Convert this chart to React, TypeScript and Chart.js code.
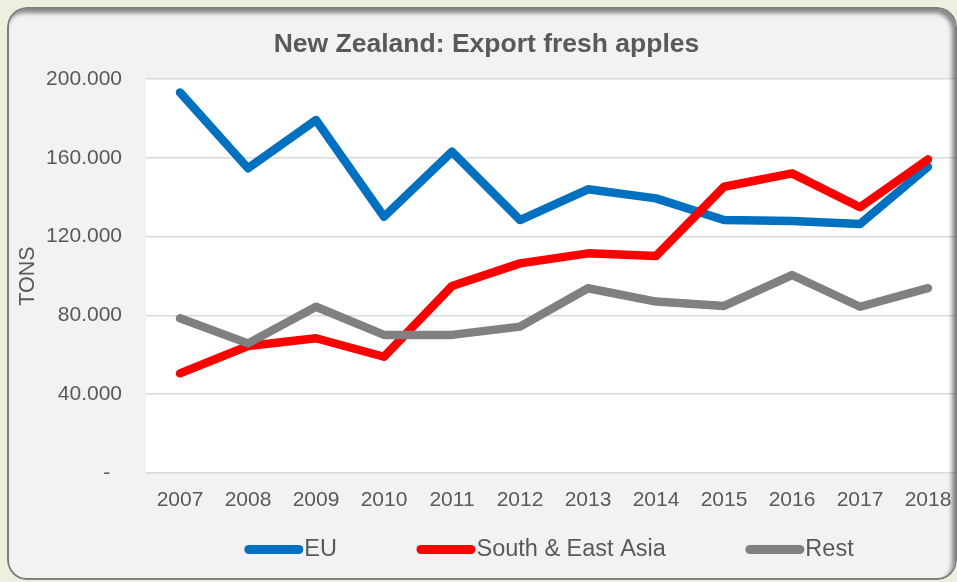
import React, { useEffect, useRef } from 'react';
import { Chart, registerables } from 'chart.js';

Chart.register(...registerables);

const years = ['2007', '2008', '2009', '2010', '2011', '2012', '2013', '2014', '2015', '2016', '2017', '2018'];
const euValues = [193200, 154700, 179200, 130100, 163100, 128400, 144000, 139400, 128400, 127900, 126400, 155500];
const asiaValues = [50600, 64500, 68400, 59000, 94900, 106400, 111500, 110200, 145300, 152100, 134900, 159200];
const restValues = [78500, 65800, 84400, 70100, 70100, 74300, 93800, 87000, 84800, 100500, 84400, 93800];
const yTickLabels = ['-  ', '40.000', '80.000', '120.000', '160.000', '200.000'];
const seriesLabels = ['EU', 'South & East Asia', 'Rest'];
const seriesColors = ['#0070C0', '#FF0000', '#808080'];

const FONT = '"Liberation Sans", Arial, Helvetica, sans-serif';
const TEXT = '#595959';

const plotBg = {
  id: 'plotBg',
  beforeDraw(chart: any) {
    const { ctx, chartArea: a } = chart;
    ctx.save();
    ctx.fillStyle = '#FFFFFF';
    ctx.fillRect(a.left, a.top, a.right - a.left, a.bottom - a.top);
    ctx.restore();
  },
};

const lineLegend = {
  id: 'lineLegend',
  afterDraw(chart: any) {
    const ctx = chart.ctx;
    ctx.save();
    ctx.font = `23.5px ${FONT}`;
    const lineW = 59;
    const gapText = 1;
    const gapItem = 79.5;
    const items = chart.data.datasets.map((ds: any) => ({
      label: ds.label,
      color: ds.borderColor,
      w: ctx.measureText(ds.label).width,
    }));
    const total =
      items.reduce((s: number, it: any) => s + lineW + gapText + it.w, 0) + gapItem * (items.length - 1);
    let x = 542 - total / 2;
    const y = 542.5;
    for (const it of items) {
      ctx.strokeStyle = it.color;
      ctx.lineWidth = 9;
      ctx.lineCap = 'round';
      ctx.beginPath();
      ctx.moveTo(x + 4.5, y);
      ctx.lineTo(x + lineW - 4.5, y);
      ctx.stroke();
      ctx.fillStyle = TEXT;
      ctx.textBaseline = 'middle';
      ctx.textAlign = 'left';
      ctx.fillText(it.label, x + lineW + gapText, y);
      x += lineW + gapText + it.w + gapItem;
    }
    ctx.restore();
  },
};

export default function App() {
  const ref = useRef<HTMLCanvasElement | null>(null);

  useEffect(() => {
    if (!ref.current) return;
    const values = [euValues, asiaValues, restValues];
    const chart = new Chart(ref.current, {
      type: 'line',
      data: {
        labels: years,
        datasets: seriesLabels.map((label, i) => ({
          label,
          data: values[i],
          borderColor: seriesColors[i],
          backgroundColor: seriesColors[i],
          borderWidth: 8.5,
          borderCapStyle: 'round',
          borderJoinStyle: 'round',
          pointRadius: 0,
          pointHoverRadius: 0,
          tension: 0,
          fill: false,
          order: 3 - i,
        })),
      },
      options: {
        responsive: false,
        animation: false,
        events: [],
        layout: { padding: { left: 4, right: 7, top: 0, bottom: 52.5 } },
        plugins: {
          legend: { display: false },
          tooltip: { enabled: false },
          title: {
            display: true,
            text: 'New Zealand: Export fresh apples',
            color: TEXT,
            font: { family: FONT, size: 26.5, weight: 'bold' },
            padding: { top: 21.5, bottom: 18.7 },
          },
        },
        scales: {
          x: {
            offset: true,
            grid: { display: false, drawTicks: false },
            border: { display: false },
            ticks: {
              color: TEXT,
              font: { family: FONT, size: 21 },
              padding: 14.4,
              maxRotation: 0,
              autoSkip: false,
            },
            afterFit: (s: any) => {
              s.height = 54.5;
            },
          },
          y: {
            min: 0,
            max: 200000,
            grid: { color: '#D9D9D9', lineWidth: 1.5, drawTicks: false },
            border: { display: false },
            ticks: {
              stepSize: 40000,
              color: TEXT,
              font: { family: FONT, size: 21 },
              padding: 24,
              callback: (_v: any, i: number) => yTickLabels[i],
            },
            title: {
              display: true,
              text: 'TONS',
              color: TEXT,
              font: { family: FONT, size: 21.5 },
              padding: { top: 4, bottom: 4 },
            },
            afterFit: (s: any) => {
              s.width = 135;
            },
          },
        },
      },
      plugins: [plotBg, lineLegend],
    } as any);
    return () => chart.destroy();
  }, []);

  return (
    <div
      style={{
        position: 'fixed',
        left: 0,
        top: 0,
        width: 957,
        height: 582,
        overflow: 'hidden',
        background: '#EBF1DE',
      }}
    >
      <div
        style={{
          position: 'absolute',
          left: 7,
          top: 7,
          width: 950,
          height: 573,
          borderRadius: 20,
          overflow: 'hidden',
          background: '#F2F2F2',
        }}
      >
        <canvas
          ref={ref}
          width={962}
          height={573}
          style={{ position: 'absolute', left: 0, top: 0, width: 962, height: 573 }}
        />
        <div
          style={{
            position: 'absolute',
            left: 0,
            top: 0,
            right: 0,
            bottom: 0,
            boxSizing: 'border-box',
            borderRadius: 20,
            border: '2px solid #7F7F7F',
            boxShadow: 'inset -3px 4px 4px rgba(0,0,0,0.45)',
            pointerEvents: 'none',
          }}
        />
      </div>
    </div>
  );
}
